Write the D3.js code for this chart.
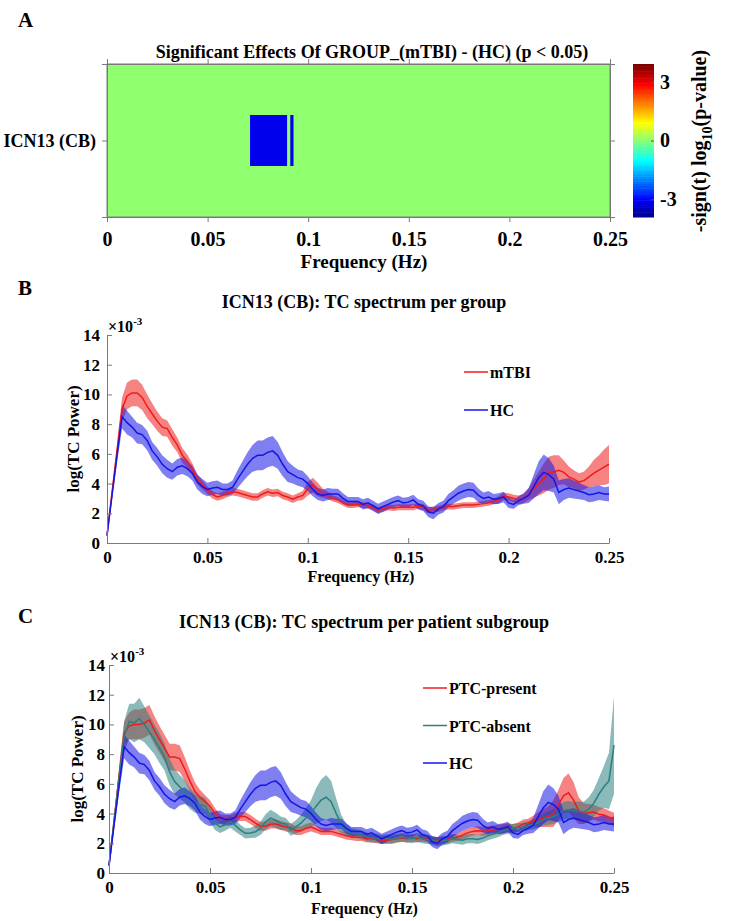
<!DOCTYPE html>
<html>
<head>
<meta charset="utf-8">
<script src="https://cdn.jsdelivr.net/npm/d3@7"></script>
<style>
  body { margin: 0; background: #fff; }
  text { font-family: "Liberation Serif", "Times New Roman", serif; font-weight: bold; fill: #000; }
</style>
</head>
<body>
<div id="chart"></div>
<script>
// ---- data ----
const freqStep = 0.0025;          // Hz between spectrum bins
const freqTicks = [0, 0.05, 0.1, 0.15, 0.2, 0.25];
const powerTicks = [0, 2, 4, 6, 8, 10, 12, 14];
const cbTicks = [-3, 0, 3];
const cbRange = [-3.9, 3.9];

// panel A: significant cells (frequency start, end, -sign(t) log10 p)
const sigStart = [0.0711, 0.0911];
const sigEnd   = [0.0895, 0.0927];
const sigValue = [-3.1, -3.1];
const networkLabel = "ICN13 (CB)";

// spectra, units of 1e-3
const hcMean = [0.5,3.2,5.9,8.5,8.1,7.8,7.4,7.3,6.9,6.2,
  5.8,5.3,5.0,4.8,5.1,5.2,5.0,4.7,4.1,3.8,
  3.6,3.7,3.75,3.6,3.6,3.75,4.3,4.8,5.3,5.7,
  5.9,5.9,6.1,6.2,5.9,5.3,4.8,4.6,4.4,4.3,
  4.0,3.6,3.3,3.2,3.3,3.3,3.3,3.0,2.8,2.8,
  2.8,2.6,2.7,2.5,2.3,2.45,2.6,2.75,2.85,2.7,
  2.75,2.9,2.6,2.5,2.1,2.0,2.3,2.45,2.85,3.1,
  3.35,3.5,3.6,3.55,3.2,3.0,3.1,2.95,3.0,3.1,
  2.7,2.6,2.85,3.0,3.2,3.8,4.4,4.75,4.6,4.3,
  3.4,3.6,3.7,3.6,3.5,3.4,3.25,3.3,3.4,3.3,
  3.3];
const hcSem = [0.1,0.3,0.5,0.8,0.8,0.7,0.7,0.65,0.65,0.6,
  0.6,0.6,0.6,0.55,0.55,0.55,0.5,0.5,0.5,0.5,
  0.45,0.45,0.45,0.4,0.4,0.45,0.6,0.7,0.8,0.9,
  1.0,1.0,1.0,1.0,0.9,0.8,0.7,0.6,0.55,0.55,
  0.5,0.45,0.4,0.4,0.4,0.35,0.35,0.35,0.3,0.3,
  0.3,0.35,0.35,0.35,0.35,0.35,0.35,0.35,0.35,0.35,
  0.35,0.35,0.35,0.35,0.35,0.4,0.4,0.4,0.45,0.45,
  0.5,0.5,0.5,0.5,0.45,0.4,0.4,0.35,0.35,0.35,
  0.35,0.3,0.3,0.35,0.5,0.8,1.1,1.2,1.1,0.9,
  0.8,0.7,0.65,0.6,0.55,0.5,0.5,0.5,0.5,0.45,
  0.5];
const mtbiMean = [0.5,3.4,6.2,9.0,9.9,10.1,10.1,9.8,9.2,8.7,
  8.2,7.8,7.7,7.1,6.6,5.9,5.5,4.95,4.3,3.9,
  3.55,3.25,3.1,3.2,3.35,3.45,3.4,3.3,3.2,3.1,
  3.1,3.3,3.45,3.35,3.4,3.2,3.1,2.95,3.1,3.2,
  3.65,3.9,3.6,3.35,3.2,3.0,2.9,2.7,2.55,2.55,
  2.6,2.55,2.5,2.4,2.2,2.3,2.4,2.35,2.4,2.4,
  2.4,2.4,2.5,2.4,2.2,2.25,2.3,2.4,2.45,2.45,
  2.5,2.55,2.55,2.55,2.6,2.65,2.7,2.8,2.9,3.15,
  3.1,3.0,2.9,3.0,3.3,3.65,4.0,4.35,4.7,4.8,
  4.9,4.75,4.45,4.3,4.1,4.2,4.45,4.7,4.9,5.1,
  5.3];
const mtbiSem = [0.1,0.3,0.5,0.8,0.9,0.9,0.9,0.85,0.8,0.7,
  0.65,0.6,0.55,0.55,0.5,0.5,0.45,0.4,0.35,0.3,
  0.25,0.25,0.25,0.25,0.25,0.25,0.25,0.25,0.25,0.25,
  0.25,0.25,0.25,0.25,0.25,0.25,0.25,0.25,0.25,0.3,
  0.45,0.5,0.45,0.3,0.25,0.2,0.2,0.2,0.2,0.2,
  0.2,0.2,0.2,0.2,0.2,0.2,0.2,0.2,0.2,0.2,
  0.2,0.2,0.2,0.2,0.2,0.2,0.2,0.2,0.2,0.2,
  0.2,0.2,0.2,0.2,0.2,0.2,0.2,0.2,0.25,0.25,
  0.25,0.25,0.3,0.3,0.4,0.6,0.8,1.0,1.1,1.1,
  1.0,0.8,0.7,0.6,0.6,0.6,0.7,0.9,1.0,1.2,
  1.3];
const ptcPresentMean = [0.5,3.5,6.5,9.4,9.9,10.0,10.0,10.1,10.3,9.6,
  9.0,8.4,7.8,7.8,7.7,7.0,6.2,5.5,5.1,4.8,
  4.5,4.0,3.65,3.6,3.6,3.75,3.8,3.8,3.6,3.35,
  3.15,3.15,3.3,3.3,3.2,3.1,3.05,2.85,2.85,3.0,
  3.1,2.95,2.8,2.8,2.8,2.7,2.6,2.5,2.45,2.4,
  2.4,2.3,2.3,2.25,2.2,2.2,2.25,2.3,2.35,2.3,
  2.35,2.3,2.35,2.3,2.2,2.15,2.2,2.25,2.35,2.4,
  2.55,2.7,2.8,2.85,2.8,2.85,2.9,2.95,3.0,3.05,
  3.0,3.1,3.3,3.35,3.5,3.6,3.7,3.8,4.0,4.6,
  5.2,5.4,4.9,4.2,4.0,4.05,4.1,3.95,3.9,3.75,
  3.6];
const ptcPresentSem = [0.1,0.3,0.6,0.8,0.9,1.0,1.0,1.0,1.0,0.95,
  0.9,0.9,0.9,0.9,0.9,0.8,0.7,0.6,0.5,0.45,
  0.4,0.35,0.3,0.3,0.3,0.3,0.3,0.3,0.3,0.3,
  0.3,0.3,0.3,0.3,0.3,0.3,0.3,0.3,0.3,0.3,
  0.3,0.25,0.25,0.25,0.25,0.25,0.25,0.25,0.25,0.25,
  0.25,0.25,0.25,0.25,0.25,0.25,0.25,0.25,0.25,0.25,
  0.25,0.25,0.25,0.25,0.25,0.25,0.25,0.25,0.25,0.25,
  0.3,0.3,0.3,0.3,0.3,0.3,0.3,0.3,0.3,0.3,
  0.3,0.3,0.3,0.3,0.35,0.5,0.6,0.7,0.9,1.0,
  1.2,1.3,1.2,0.9,0.7,0.6,0.5,0.5,0.45,0.45,
  0.45];
const ptcAbsentMean = [0.5,3.5,6.4,9.2,10.2,10.1,10.4,10.0,9.5,9.0,
  8.4,7.8,6.8,6.15,5.8,5.5,5.0,4.7,4.6,4.5,
  3.9,3.35,3.1,3.25,3.45,3.2,2.9,2.67,2.7,2.78,
  3.0,3.45,3.7,3.55,3.35,3.3,2.9,3.1,3.35,3.7,
  4.0,4.5,4.9,5.1,4.8,4.0,3.3,2.9,2.67,2.65,
  2.55,2.45,2.35,2.35,2.25,2.3,2.25,2.35,2.4,2.35,
  2.3,2.4,2.3,2.25,2.2,2.1,2.15,2.2,2.3,2.25,
  2.2,2.3,2.3,2.25,2.35,2.5,2.6,2.7,2.85,2.95,
  3.0,3.05,3.1,3.2,3.25,3.4,3.6,3.7,3.8,4.0,
  4.2,4.25,4.2,4.15,4.1,4.3,4.7,5.3,5.8,6.2,
  8.6];
const ptcAbsentSem = [0.1,0.4,0.7,1.0,1.2,1.3,1.4,1.2,1.1,1.0,
  1.0,0.9,0.9,0.85,0.8,0.75,0.7,0.65,0.6,0.55,
  0.5,0.45,0.4,0.4,0.4,0.4,0.35,0.35,0.35,0.4,
  0.45,0.5,0.55,0.5,0.45,0.4,0.4,0.45,0.55,0.7,
  0.9,1.2,1.4,1.5,1.4,1.0,0.6,0.4,0.35,0.3,
  0.3,0.3,0.3,0.3,0.3,0.3,0.3,0.3,0.3,0.3,
  0.3,0.3,0.3,0.3,0.3,0.3,0.3,0.3,0.3,0.3,
  0.3,0.3,0.3,0.3,0.3,0.3,0.3,0.3,0.3,0.3,
  0.3,0.3,0.3,0.3,0.3,0.35,0.4,0.45,0.5,0.55,
  0.6,0.6,0.6,0.65,0.7,0.8,0.9,1.1,1.4,1.9,
  3.3];

const freqs = d3.range(hcMean.length).map(i => i * freqStep);

const RED = "#ee1c1c", BLUE = "#1515e6", TEAL = "#2d7f7f";

// ---- svg ----
const width = 731, height = 921;
const svg = d3.select("#chart").append("svg")
  .attr("width", width).attr("height", height);

const axisGrey = "#7a7a7a";

function styleAxis(g, size) {
  g.select(".domain").attr("stroke", axisGrey);
  g.selectAll(".tick line").attr("stroke", axisGrey);
  g.selectAll(".tick text").style("font-size", size + "px").attr("fill", "#000");
}

function panelLetter(x, y, s) {
  svg.append("text").attr("x", x).attr("y", y).style("font-size", "21px").text(s);
}

// matlab jet(64)
function jetRow(i) { // i = 1..64
  const u = k => (k < 1 || k > 47) ? 0 : k <= 16 ? k / 16 : k <= 31 ? 1 : (48 - k) / 16;
  return d3.rgb(u(i - 24) * 255, u(i - 8) * 255, u(i + 8) * 255).toString();
}
const cbNorm = d3.scaleLinear().domain(cbRange).range([0, 1]).clamp(true);
const color = v => jetRow(Math.min(64, Math.floor(cbNorm(v) * 64) + 1));

// ---- panel A ----
(function () {
  const x = d3.scaleLinear().domain([0, 0.25]).range([107, 610]);
  const y = d3.scaleLinear().domain([0, 3]).range([64, 217]);
  const g = svg.append("g");

  panelLetter(18, 27, "A");

  g.append("rect").attr("x", x(0)).attr("y", y(0))
    .attr("width", x(0.25) - x(0)).attr("height", y(3) - y(0))
    .attr("fill", color(0));

  g.selectAll("rect.sig").data(sigStart).join("rect").attr("class", "sig")
    .attr("x", (d, i) => x(sigStart[i]))
    .attr("width", (d, i) => x(sigEnd[i]) - x(sigStart[i]))
    .attr("y", y(1)).attr("height", y(2) - y(1))
    .attr("fill", (d, i) => color(sigValue[i]));

  g.append("rect").attr("x", x(0)).attr("y", y(0))
    .attr("width", x(0.25) - x(0)).attr("height", y(3) - y(0))
    .attr("fill", "none").attr("stroke", axisGrey);

  const fmt = d => String(d);
  const xb = g.append("g").attr("transform", `translate(0,${y(3)})`)
    .call(d3.axisBottom(x).tickValues(freqTicks).tickFormat(fmt).tickSize(5).tickPadding(10));
  styleAxis(xb, 20);
  const xt = g.append("g").attr("transform", `translate(0,${y(0)})`)
    .call(d3.axisTop(x).tickValues(freqTicks).tickFormat("").tickSize(5));
  styleAxis(xt, 18);

  const yl = g.append("g").attr("transform", `translate(${x(0)},0)`)
    .call(d3.axisLeft(y).tickValues([1.5]).tickFormat(() => networkLabel).tickSize(5).tickPadding(6));
  styleAxis(yl, 18);
  const yr = g.append("g").attr("transform", `translate(${x(0.25)},0)`)
    .call(d3.axisRight(y).tickValues([1.5]).tickFormat("").tickSize(5));
  styleAxis(yr, 18);

  g.append("text").attr("x", 372).attr("y", 58).attr("text-anchor", "middle")
    .style("font-size", "18px")
    .text("Significant Effects Of GROUP_(mTBI) - (HC) (p < 0.05)");
  g.append("text").attr("x", 364).attr("y", 268).attr("text-anchor", "middle")
    .style("font-size", "19px").text("Frequency (Hz)");

  // colorbar, 64 discrete jet rows
  const cy = d3.scaleLinear().domain(cbRange).range([217, 64]);
  const rows = d3.range(1, 65);
  const rowH = (cy(cbRange[0]) - cy(cbRange[1])) / 64;
  g.selectAll("rect.cb").data(rows).join("rect").attr("class", "cb")
    .attr("x", 633).attr("width", 21)
    .attr("y", d => cy(cbRange[0]) - d * rowH).attr("height", rowH + 0.5)
    .attr("fill", d => jetRow(d));
  const cb = g.append("g").attr("transform", "translate(654,0)")
    .call(d3.axisRight(cy).tickValues(cbTicks).tickFormat(fmt).tickSize(-3).tickPadding(6));
  cb.select(".domain").remove();
  styleAxis(cb, 20);
  cb.selectAll(".tick line").attr("stroke", "#555");

  const lab = g.append("text").attr("transform", "translate(706,141) rotate(-90)")
    .attr("text-anchor", "middle").style("font-size", "20px");
  lab.append("tspan").text("-sign(t) log");
  lab.append("tspan").attr("dy", 6).style("font-size", "14px").text("10");
  lab.append("tspan").attr("dy", -6).text("(p-value)");
})();

// ---- spectrum panels ----
function spectrumPanel(o) {
  const x = d3.scaleLinear().domain([0, 0.25]).range(o.xr);
  const y = d3.scaleLinear().domain([0, 14]).range(o.yr);
  const g = svg.append("g");

  o.series.forEach(s => {
    const pts = freqs.map((f, i) => ({ f, m: s.mean[i], e: s.sem[i] }));
    g.append("path").datum(pts)
      .attr("d", d3.area().x(d => x(d.f)).y0(d => y(d.m - d.e)).y1(d => y(d.m + d.e)))
      .attr("fill", s.color).attr("fill-opacity", 0.55);
  });
  o.series.forEach(s => {
    const pts = freqs.map((f, i) => ({ f, m: s.mean[i] }));
    g.append("path").datum(pts)
      .attr("d", d3.line().x(d => x(d.f)).y(d => y(d.m)))
      .attr("fill", "none").attr("stroke", s.color).attr("stroke-width", 1.5);
  });

  const xa = g.append("g").attr("transform", `translate(0,${o.yr[0]})`)
    .call(d3.axisBottom(x).tickValues(freqTicks).tickFormat(d => String(d)).tickSizeInner(-5).tickSizeOuter(0).tickPadding(o.xPad));
  styleAxis(xa, 17);
  const ya = g.append("g").attr("transform", `translate(${o.xr[0]},0)`)
    .call(d3.axisLeft(y).tickValues(powerTicks).tickFormat(d => String(d)).tickSizeInner(-5).tickSizeOuter(0).tickPadding(o.yPad));
  styleAxis(ya, 17);

  const ex = g.append("text").attr("x", o.xr[0] + 1).attr("y", o.yr[1] - 3).style("font-size", "16px");
  ex.append("tspan").text("\u00d710");
  ex.append("tspan").attr("dy", -7).style("font-size", "11px").text("-3");

  g.append("text").attr("x", o.titleX).attr("y", o.titleY).attr("text-anchor", "middle")
    .style("font-size", "18px").text(o.title);
  g.append("text").attr("x", (o.xr[0] + o.xr[1]) / 2 + 3).attr("y", o.yr[0] + o.xLabOff)
    .attr("text-anchor", "middle").style("font-size", "16px").text("Frequency (Hz)");
  g.append("text").attr("transform", `translate(${o.ylabX},${(o.yr[0] + o.yr[1]) / 2}) rotate(-90)`)
    .attr("text-anchor", "middle").style("font-size", "17px").text("log(TC Power)");

  const lg = g.append("g");
  o.series.forEach((s, i) => {
    const ly = o.legY + i * o.legGap;
    lg.append("line").attr("x1", o.legX).attr("x2", o.legX + 24)
      .attr("y1", ly).attr("y2", ly).attr("stroke", s.color).attr("stroke-width", 1.5);
    lg.append("text").attr("x", o.legX + 26).attr("y", ly + 6)
      .style("font-size", "16px").text(s.name);
  });
}

panelLetter(18, 295, "B");
spectrumPanel({
  xr: [107, 609], yr: [543, 335], xPad: 8, yPad: 7, xLabOff: 39,
  title: "ICN13 (CB): TC spectrum per group", titleX: 364, titleY: 308,
  ylabX: 79,
  legX: 464, legY: 372, legGap: 38,
  series: [
    { name: "mTBI", mean: mtbiMean, sem: mtbiSem, color: RED },
    { name: "HC", mean: hcMean, sem: hcSem, color: BLUE }
  ]
});

panelLetter(18, 623, "C");
spectrumPanel({
  xr: [109, 614], yr: [873, 665], xPad: 8, yPad: 4, xLabOff: 41,
  title: "ICN13 (CB): TC spectrum per patient subgroup", titleX: 364, titleY: 628,
  ylabX: 83,
  legX: 423, legY: 688, legGap: 37.5,
  series: [
    { name: "PTC-present", mean: ptcPresentMean, sem: ptcPresentSem, color: RED },
    { name: "PTC-absent", mean: ptcAbsentMean, sem: ptcAbsentSem, color: TEAL },
    { name: "HC", mean: hcMean, sem: hcSem, color: BLUE }
  ]
});
</script>
</body>
</html>
